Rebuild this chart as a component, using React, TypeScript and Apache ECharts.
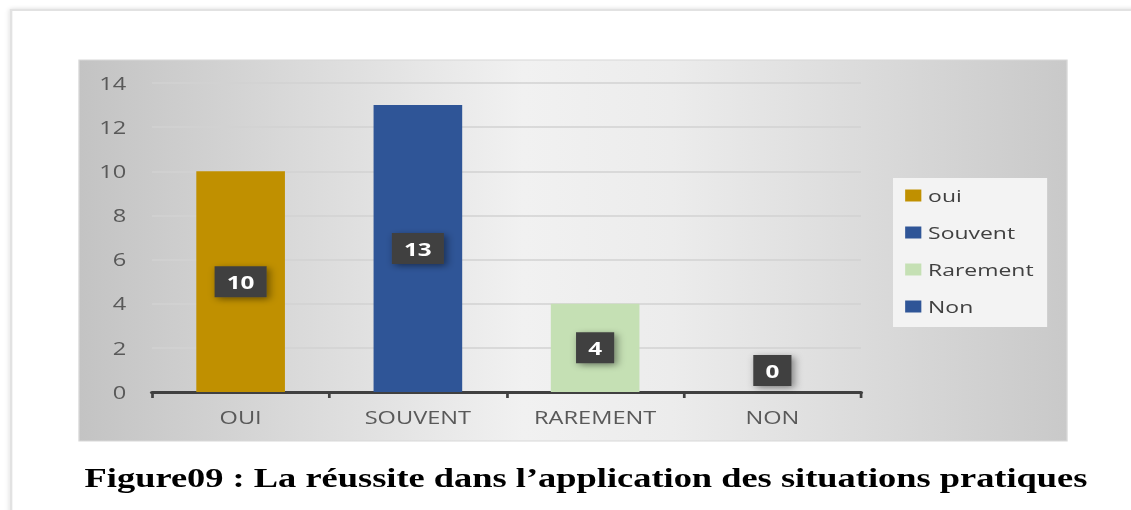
import React, { useEffect, useRef } from "react";
import * as echarts from "echarts";

const categories = ["OUI", "SOUVENT", "RAREMENT", "NON"];
const seriesNames = ["oui", "Souvent", "Rarement", "Non"];
const values = [10, 13, 4, 0];
const colors = ["#C09000", "#2F5597", "#C5E0B4", "#2F5597"];
const yMax = 14;
const yInterval = 2;
const caption = "Figure09 : La réussite dans l\u2019application des situations pratiques";

// the reference picture is stretched horizontally; draw narrower and stretch it the same way
const PAGE_W = 1131;
const CHART_W = 838;
const STRETCH = PAGE_W / CHART_W;
const px = (x: number) => x / STRETCH;

export default function App() {
  const ref = useRef<HTMLDivElement>(null);
  useEffect(() => {
    document.body.style.margin = "0";
    document.body.style.overflow = "hidden";
    const chart = echarts.init(ref.current!, null, { renderer: "svg" });
    const series = seriesNames.map((name, i) => ({
      name,
      type: "bar",
      stack: "total",
      barWidth: "50%",
      itemStyle: { color: colors[i] },
      data: categories.map((_, j) => (j === i ? values[i] : "-")),
      label: {
        show: true,
        position: values[i] === 0 ? "top" : "inside",
        distance: 6,
        color: "#ffffff",
        fontFamily: "Open Sans",
        fontWeight: "bold",
        fontSize: 18,
        backgroundColor: "#404040",
        padding: [7, 9, 6, 9],
        shadowBlur: 6,
        shadowColor: "rgba(0,0,0,0.45)",
        shadowOffsetX: 2,
        shadowOffsetY: 2,
      },
    }));
    chart.setOption({
      animation: false,
      graphic: [
        {
          type: "rect",
          shape: { x: px(11), y: 10, width: 900, height: 520 },
          style: { fill: "#ffffff", stroke: "#e2e2e2", lineWidth: 2, shadowBlur: 4, shadowColor: "rgba(0,0,0,0.15)" },
          z: -10,
        },
        {
          type: "rect",
          shape: { x: px(79), y: 60, width: px(988), height: 381 },
          style: {
            fill: new echarts.graphic.LinearGradient(0, 0, 1, 0, [
              { offset: 0, color: "#c3c3c3" },
              { offset: 0.45, color: "#f1f1f1" },
              { offset: 0.6, color: "#ececec" },
              { offset: 1, color: "#c9c9c9" },
            ]),
            stroke: "#d8d8d8",
            lineWidth: 1,
          },
          z: -9,
        },
        {
          type: "text",
          x: px(586),
          y: 478,
          style: {
            text: caption,
            fill: "#000000",
            font: 'bold 27px "Liberation Serif"',
            align: "center",
            verticalAlign: "middle",
          },
        },
      ],
      legend: {
        orient: "vertical",
        left: px(893),
        top: 178,
        backgroundColor: "#f3f3f3",
        padding: [9, 10, 12, 9],
        itemWidth: 12,
        itemHeight: 12,
        itemGap: 20,
        itemTextGap: 5,
        icon: "rect",
        data: seriesNames,
        textStyle: { color: "#404040", fontSize: 17, fontFamily: "Open Sans" },
      },
      grid: { left: px(152), right: CHART_W - px(861), top: 83, bottom: 118 },
      xAxis: {
        type: "category",
        data: categories,
        axisLine: { lineStyle: { color: "#404040", width: 3 } },
        axisTick: { show: true, length: 6, lineStyle: { color: "#404040", width: 2 } },
        axisLabel: { color: "#595959", fontSize: 17.5, margin: 16, fontFamily: "Open Sans" },
      },
      yAxis: {
        type: "value",
        min: 0,
        max: yMax,
        interval: yInterval,
        axisLine: { show: false },
        axisTick: { show: false },
        axisLabel: { color: "#595959", fontSize: 17.5, margin: 19, fontFamily: "Open Sans" },
        splitLine: { lineStyle: { color: "#d2d2d2", width: 1.5 } },
      },
      series,
    });
    return () => chart.dispose();
  }, []);
  return (
    <div
      ref={ref}
      style={{ width: CHART_W, height: 510, transform: `scaleX(${STRETCH})`, transformOrigin: "0 0" }}
    />
  );
}
